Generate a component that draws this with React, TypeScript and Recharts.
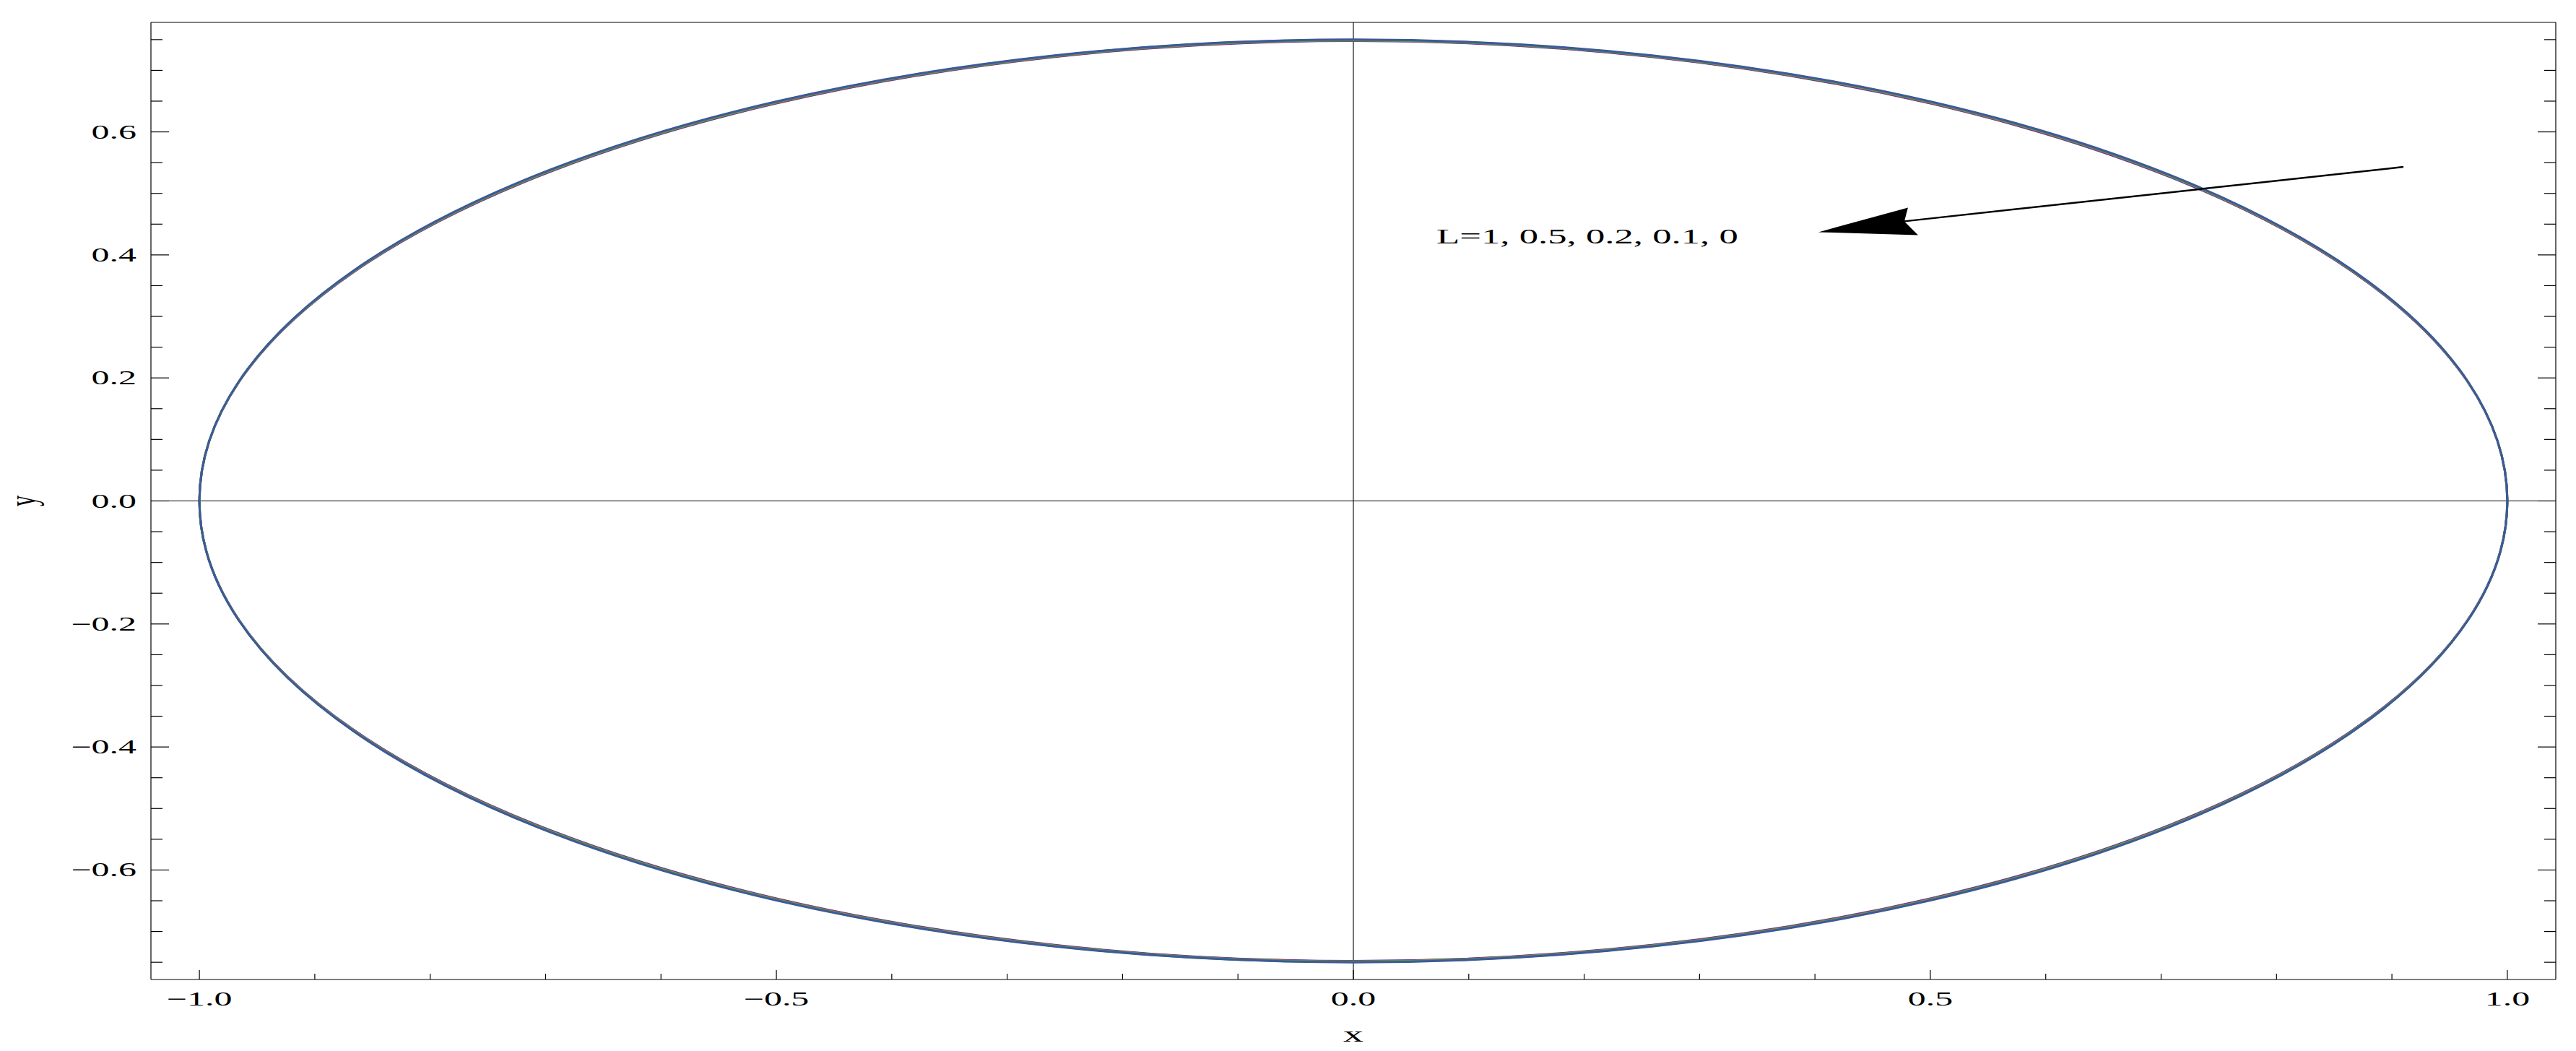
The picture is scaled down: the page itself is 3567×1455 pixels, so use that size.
import React from 'react';
import { LineChart, Line, XAxis, YAxis, ReferenceLine, ReferenceDot } from 'recharts';

// points round the loop, every 15 degrees
const loopX = [1, 0.9659, 0.866, 0.7071, 0.5, 0.2588, 0, -0.2588, -0.5, -0.7071, -0.866, -0.9659, -1, -0.9659, -0.866, -0.7071, -0.5, -0.2588, 0, 0.2588, 0.5, 0.7071, 0.866, 0.9659];

const yL1 = [0, 0.1929, 0.3726, 0.5271, 0.6463, 0.722, 0.748, 0.722, 0.6463, 0.5271, 0.3726, 0.1929, 0, -0.1929, -0.3726, -0.5271, -0.6463, -0.722, -0.748, -0.722, -0.6463, -0.5271, -0.3726, -0.1929];
const yL05 = [0, 0.1932, 0.3732, 0.5279, 0.6471, 0.7226, 0.7485, 0.7226, 0.6471, 0.5279, 0.3732, 0.1932, 0, -0.1932, -0.3732, -0.5279, -0.6471, -0.7226, -0.7485, -0.7226, -0.6471, -0.5279, -0.3732, -0.1932];
const yL02 = [0, 0.1935, 0.3738, 0.5287, 0.6479, 0.7232, 0.749, 0.7232, 0.6479, 0.5287, 0.3738, 0.1935, 0, -0.1935, -0.3738, -0.5287, -0.6479, -0.7232, -0.749, -0.7232, -0.6479, -0.5287, -0.3738, -0.1935];
const yL01 = [0, 0.1938, 0.3744, 0.5295, 0.6487, 0.7238, 0.7495, 0.7238, 0.6487, 0.5295, 0.3744, 0.1938, 0, -0.1938, -0.3744, -0.5295, -0.6487, -0.7238, -0.7495, -0.7238, -0.6487, -0.5295, -0.3744, -0.1938];
const yL0 = [0, 0.1941, 0.375, 0.5303, 0.6495, 0.7244, 0.75, 0.7244, 0.6495, 0.5303, 0.375, 0.1941, 0, -0.1941, -0.375, -0.5303, -0.6495, -0.7244, -0.75, -0.7244, -0.6495, -0.5303, -0.375, -0.1941];

const xTicks = [-1, -0.9, -0.8, -0.7, -0.6, -0.5, -0.4, -0.3, -0.2, -0.1, 0, 0.1, 0.2, 0.3, 0.4, 0.5, 0.6, 0.7, 0.8, 0.9, 1];
const xMajor = [-1, -0.5, 0, 0.5, 1];
const yTicks = [
  -0.75, -0.7, -0.65, -0.6, -0.55, -0.5, -0.45, -0.4, -0.35, -0.3, -0.25, -0.2, -0.15, -0.1, -0.05, 0,
  0.05, 0.1, 0.15, 0.2, 0.25, 0.3, 0.35, 0.4, 0.45, 0.5, 0.55, 0.6, 0.65, 0.7, 0.75,
];
const yMajor = [-0.6, -0.4, -0.2, 0, 0.2, 0.4, 0.6];

const xDomain = [-1.042, 1.042];
const yDomain = [-0.778, 0.778];

const annotationText = 'L=1, 0.5, 0.2, 0.1, 0';
const annotationAt = { x: 0.072, y: 0.419 };
const arrowFrom = { x: 0.91, y: 0.543 };
const arrowTo = { x: 0.403, y: 0.437 };

const series = [
  { name: 'L=1', ys: yL1, color: '#3F3D99' },
  { name: 'L=0.5', ys: yL05, color: '#993D71' },
  { name: 'L=0.2', ys: yL02, color: '#998B3D' },
  { name: 'L=0.1', ys: yL01, color: '#3D9956' },
  { name: 'L=0', ys: yL0, color: '#3D5A99' },
];

const FONT = '"Liberation Serif", "Times New Roman", serif';
const SX = 1.85; // the original figure is stretched sideways

const isMajor = (list: number[], v: number) => list.some((m) => Math.abs(m - v) < 1e-6);
const fmt = (v: number) => {
  const s = Math.abs(v).toFixed(1);
  return v < -1e-9 ? '\u2212' + s : s;
};

// closed Catmull-Rom loop through the points
const closedLoop = (context: any) => {
  let pts: number[][] = [];
  return {
    areaStart() {},
    areaEnd() {},
    lineStart() {
      pts = [];
    },
    point(x: number, y: number) {
      pts.push([+x, +y]);
    },
    lineEnd() {
      const n = pts.length;
      if (!n) return;
      const p = (i: number) => pts[(i + n) % n];
      context.moveTo(pts[0][0], pts[0][1]);
      for (let i = 0; i < n; i++) {
        const a = p(i - 1), b = p(i), c = p(i + 1), d = p(i + 2);
        context.bezierCurveTo(
          b[0] + (c[0] - a[0]) / 6, b[1] + (c[1] - a[1]) / 6,
          c[0] - (d[0] - b[0]) / 6, c[1] - (d[1] - b[1]) / 6,
          c[0], c[1],
        );
      }
      context.closePath();
    },
  };
};

function BottomTick({ x, y, payload }: any) {
  const major = isMajor(xMajor, payload.value);
  return (
    <g>
      <line x1={x} x2={x} y1={y} y2={y - (major ? 13 : 8)} stroke="#000" strokeWidth={1.2} />
      {major && (
        <text transform={`translate(${x},${y + 36}) scale(${SX},1)`} textAnchor="middle" fontSize={27} fontFamily={FONT} fill="#000">
          {fmt(payload.value)}
        </text>
      )}
    </g>
  );
}

function TopTick({ x, y, payload }: any) {
  const major = isMajor(xMajor, payload.value);
  return <line x1={x} x2={x} y1={y} y2={y + (major ? 13 : 8)} stroke="#000" strokeWidth={1.2} />;
}

function LeftTick({ x, y, payload }: any) {
  const major = isMajor(yMajor, payload.value);
  return (
    <g>
      <line x1={x} x2={x + (major ? 25 : 16)} y1={y} y2={y} stroke="#000" strokeWidth={1.2} />
      {major && (
        <text transform={`translate(${x - 20},${y + 9}) scale(${SX},1)`} textAnchor="end" fontSize={27} fontFamily={FONT} fill="#000">
          {fmt(payload.value)}
        </text>
      )}
    </g>
  );
}

function RightTick({ x, y, payload }: any) {
  const major = isMajor(yMajor, payload.value);
  return <line x1={x} x2={x - (major ? 25 : 16)} y1={y} y2={y} stroke="#000" strokeWidth={1.2} />;
}

const xLabel = (props: any) => {
  const vb = props.viewBox;
  return (
    <text transform={`translate(${vb.x + vb.width / 2},${vb.y + 86}) scale(${SX},1)`} textAnchor="middle" fontSize={30} fontFamily={FONT} fill="#000">
      x
    </text>
  );
};

const yLabel = (props: any) => {
  const vb = props.viewBox;
  return (
    <text transform={`translate(${vb.x + vb.width - 160},${vb.y + vb.height / 2}) scale(${SX},1) rotate(-90)`} textAnchor="middle" fontSize={30} fontFamily={FONT} fill="#000">
      y
    </text>
  );
};

const arrowShape = (p: any) => {
  const { x1, y1, x2, y2 } = p;
  return (
    <g>
      <line x1={x1} y1={y1} x2={x2 + 119} y2={y2 - 15} stroke="#000" strokeWidth={2.5} />
      <polygon
        points={`${x2},${y2} ${x2 + 124},${y2 - 34} ${x2 + 119},${y2 - 15} ${x2 + 138},${y2 + 4}`}
        fill="#000"
      />
    </g>
  );
};

const annotationShape = (p: any) => (
  <text transform={`translate(${p.cx},${p.cy}) scale(${SX},1)`} fontSize={28.5} fontFamily={FONT} fill="#000">
    {annotationText}
  </text>
);

export default function App() {
  const frame = { stroke: '#000', strokeWidth: 1.2 };
  return (
    <div style={{ position: 'absolute', left: 0, top: 0, width: 3567, height: 1455, background: '#fff' }}>
      <LineChart width={3567} height={1455} margin={{ top: 30, right: 27, bottom: 39, left: 149 }}>
        <XAxis
          type="number"
          dataKey="x"
          domain={xDomain}
          allowDataOverflow
          ticks={xTicks}
          interval={0}
          height={60}
          tickSize={0}
          tickMargin={0}
          tick={<BottomTick />}
          axisLine={frame}
          label={xLabel}
        />
        <XAxis
          xAxisId="top"
          orientation="top"
          type="number"
          domain={xDomain}
          allowDataOverflow
          ticks={xTicks}
          interval={0}
          height={1}
          tickSize={0}
          tickMargin={0}
          tick={<TopTick />}
          axisLine={frame}
        />
        <YAxis
          type="number"
          domain={yDomain}
          allowDataOverflow
          ticks={yTicks}
          interval={0}
          width={60}
          tickSize={0}
          tickMargin={0}
          tick={<LeftTick />}
          axisLine={frame}
          label={yLabel}
        />
        <YAxis
          yAxisId="right"
          orientation="right"
          type="number"
          domain={yDomain}
          allowDataOverflow
          ticks={yTicks}
          interval={0}
          width={1}
          tickSize={0}
          tickMargin={0}
          tick={<RightTick />}
          axisLine={frame}
        />
        <ReferenceLine x={0} stroke="#000" strokeWidth={1.1} />
        <ReferenceLine y={0} stroke="#000" strokeWidth={1.1} />
        {series.map((s) => (
          <Line
            key={s.name}
            name={s.name}
            data={loopX.map((x, i) => ({ x, y: s.ys[i] }))}
            dataKey="y"
            type={closedLoop as any}
            stroke={s.color}
            strokeWidth={3}
            dot={false}
            activeDot={false}
            isAnimationActive={false}
          />
        ))}
        <ReferenceLine segment={[arrowFrom, arrowTo]} shape={arrowShape} />
        <ReferenceDot x={annotationAt.x} y={annotationAt.y} r={0} shape={annotationShape} />
      </LineChart>
    </div>
  );
}
